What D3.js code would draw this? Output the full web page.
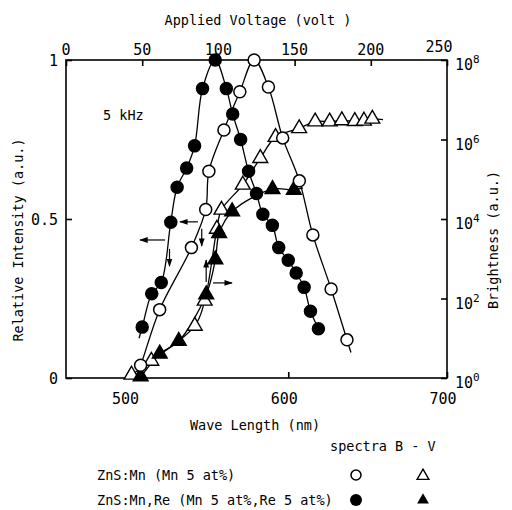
<!DOCTYPE html>
<html>
<head>
<meta charset="utf-8">
<script src="https://cdn.jsdelivr.net/npm/d3@7"></script>
<style>
  body { margin: 0; background: #fff; }
  text { font-family: "DejaVu Sans Mono", monospace; fill: #000; }
</style>
</head>
<body>
<div id="chart"></div>
<script>
// spectra: [wavelength nm, relative intensity]
const specMn = [[507,0.04],[519,0.215],[539,0.41],[548,0.53],[550,0.65],[559.5,0.78],[569.5,0.90],[578.5,1.0],
  [587.5,0.915],[596.5,0.755],[607,0.62],[615.5,0.45],[627,0.28],[637,0.12]];
const specMnRe = [[508,0.16],[514,0.265],[520,0.30],[526,0.49],[530,0.60],[536,0.66],[541,0.73],[546,0.91],[554,1.0],
  [561,0.91],[565,0.83],[570,0.75],[575,0.65],[580,0.58],[584,0.515],[590,0.48],[594,0.41],[600,0.37],
  [605,0.33],[610,0.285],[614,0.21],[619,0.155]];
// B-V: [applied voltage V, log10 brightness]
const bvMn = [[43,0.08],[56,0.43],[84.5,1.31],[91,1.94],[99,3.75],[102,4.23],[116,4.86],[127.5,5.53],[137.5,6.06],
  [153,6.28],[163.5,6.45],[173,6.45],[181,6.48],[189.5,6.46],[195.5,6.47],[201,6.52]];
const bvMnRe = [[49,0.04],[61.5,0.61],[74,0.93],[92,2.1],[98,2.98],[100.5,3.64],[109,4.19],[135.5,4.75],[149.5,4.73]];
// fitted-curve ends beyond the markers
const specMnEnds = [[503.5,0], [639.5,0.08]];
const specMnReEnds = [[506,0.125], [620.5,0.135]];
const bvMnEnds = [[40.5,0], [208,6.5]];
const bvMnReEnds = [[47.5,0], [155.5,4.78]];
// arrows in wavelength / intensity units: [from, to]
const arrows = [
  [[543.1,0.491], [531.8,0.491]],
  [[522.4,0.434], [506.7,0.434]],
  [[525.2,0.406], [525.2,0.352]],
  [[545.5,0.469], [545.5,0.415]],
  [[548.3,0.302], [548.3,0.371]],
  [[552.6,0.299], [564.6,0.299]]
];

const wlTicks = [500, 600, 700];
const voltTicks = [0, 50, 100, 150, 200, 250];
const intTicks = [0, 0.5, 1];
const logTicks = [0, 2, 4, 6, 8];

const W = 512, H = 510;
const m = { left: 66, top: 60, right: 447, bottom: 378 };

const svg = d3.select('#chart').append('svg').attr('width', W).attr('height', H);

const x = d3.scaleLinear().domain([460, 700]).range([m.left, m.right]);
const xv = d3.scaleLinear().domain([0, 250]).range([m.left, m.right]);
const y = d3.scaleLinear().domain([0, 1]).range([m.bottom, m.top]);
const yb = d3.scaleLog().domain([1, 1e8]).range([m.bottom, m.top]);

// frame
svg.append('rect')
  .attr('x', m.left).attr('y', m.top)
  .attr('width', m.right - m.left).attr('height', m.bottom - m.top)
  .attr('fill', 'none').attr('stroke', '#000').attr('stroke-width', 1.6);

// axes, ticks inward
const bottomAxis = svg.append('g').attr('transform', `translate(0,${m.bottom})`)
  .call(d3.axisBottom(x).tickValues(wlTicks).tickSize(-6).tickFormat(''));
const topAxis = svg.append('g').attr('transform', `translate(0,${m.top})`)
  .call(d3.axisTop(xv).tickValues(voltTicks).tickSize(-6).tickFormat(''));
const leftAxis = svg.append('g').attr('transform', `translate(${m.left},0)`)
  .call(d3.axisLeft(y).tickValues(intTicks).tickSize(-6).tickFormat(''));
const rightAxis = svg.append('g').attr('transform', `translate(${m.right},0)`)
  .call(d3.axisRight(yb).tickValues(logTicks.map(d => Math.pow(10, d))).tickSize(-6).tickFormat(''));
[bottomAxis, topAxis, leftAxis, rightAxis].forEach(a => {
  a.select('.domain').remove();
  a.selectAll('line').attr('stroke', '#000').attr('stroke-width', 1.6);
});

// tick labels
svg.append('g').selectAll('text').data(wlTicks).join('text')
  .attr('x', d => x(d) - 4).attr('y', 404)
  .attr('text-anchor', 'middle').attr('font-size', 15).text(d => d);
svg.append('g').selectAll('text').data(voltTicks).join('text')
  .attr('x', d => xv(d) + (d === 250 ? -8 : 0)).attr('y', d => d === 250 ? 52 : 55)
  .attr('text-anchor', 'middle').attr('font-size', 15).text(d => d);
svg.append('g').selectAll('text').data(intTicks).join('text')
  .attr('x', 58).attr('y', d => y(d) + 6)
  .attr('text-anchor', 'end').attr('font-size', 15).text(d => d);
const rl = svg.append('g').selectAll('text').data(logTicks).join('text')
  .attr('x', 455).attr('y', d => yb(Math.pow(10, d)) + 10)
  .attr('font-size', 15);
rl.append('tspan').text('10');
rl.append('tspan').attr('dy', -7).attr('font-size', 11).text(d => d);

// axis titles
svg.append('text').attr('x', 258).attr('y', 25).attr('text-anchor', 'middle')
  .attr('font-size', 13.5).text('Applied Voltage (volt )');
svg.append('text').attr('x', 255).attr('y', 430).attr('text-anchor', 'middle')
  .attr('font-size', 13.5).text('Wave Length (nm)');
svg.append('text').attr('transform', 'translate(23,240) rotate(-90)').attr('text-anchor', 'middle')
  .attr('font-size', 13.5).text('Relative Intensity (a.u.)');
svg.append('text').attr('transform', 'translate(498,240) rotate(-90)').attr('text-anchor', 'middle')
  .attr('font-size', 13.5).text('Brightness (a.u.)');
svg.append('text').attr('x', 103).attr('y', 120).attr('font-size', 13.5).text('5 kHz');

// curves
const specLine = d3.line().x(d => x(d[0])).y(d => y(d[1])).curve(d3.curveCatmullRom);
const bvLine = d3.line().x(d => xv(d[0])).y(d => yb(Math.pow(10, d[1]))).curve(d3.curveCatmullRom);
const withEnds = (pts, ends) => [ends[0], ...pts, ends[1]];

const curves = svg.append('g').attr('fill', 'none').attr('stroke', '#000').attr('stroke-width', 1.3);
curves.append('path').attr('d', specLine(withEnds(specMn, specMnEnds)));
curves.append('path').attr('d', specLine(withEnds(specMnRe, specMnReEnds)));
curves.append('path').attr('d', bvLine(withEnds(bvMn, bvMnEnds)));
curves.append('path').attr('d', bvLine(withEnds(bvMnRe, bvMnReEnds)));

// markers
const tri = d3.symbol().type(d3.symbolTriangle).size(95);
const triSmall = d3.symbol().type(d3.symbolTriangle).size(60);
function circles(data, filled) {
  svg.append('g').selectAll('circle').data(data).join('circle')
    .attr('cx', d => x(d[0])).attr('cy', d => y(d[1])).attr('r', 6)
    .attr('fill', filled ? '#000' : '#fff').attr('stroke', '#000').attr('stroke-width', 1.5);
}
function triangles(data, filled) {
  svg.append('g').selectAll('path').data(data).join('path')
    .attr('transform', d => `translate(${xv(d[0])},${yb(Math.pow(10, d[1]))})`)
    .attr('d', tri)
    .attr('fill', filled ? '#000' : '#fff').attr('stroke', '#000').attr('stroke-width', 1.4);
}
triangles(bvMn, false);
triangles(bvMnRe, true);
circles(specMn, false);
circles(specMnRe, true);

// arrows pointing to the axis each curve belongs to
svg.append('defs').append('marker').attr('id', 'ah').attr('viewBox', '0 0 10 10')
  .attr('refX', 9).attr('refY', 5).attr('markerWidth', 7).attr('markerHeight', 7)
  .attr('orient', 'auto-start-reverse')
  .append('path').attr('d', 'M0,1.5L10,5L0,8.5z').attr('fill', '#000');
svg.append('g').selectAll('line').data(arrows).join('line')
  .attr('x1', d => x(d[0][0])).attr('y1', d => y(d[0][1]))
  .attr('x2', d => x(d[1][0])).attr('y2', d => y(d[1][1]))
  .attr('stroke', '#000').attr('stroke-width', 1.2).attr('marker-end', 'url(#ah)');

// legend
const lg = svg.append('g').attr('font-size', 13.5);
lg.append('text').attr('x', 330).attr('y', 451).text('spectra  B - V');
lg.append('text').attr('x', 97).attr('y', 480).text('ZnS:Mn (Mn 5 at%)');
lg.append('text').attr('x', 97).attr('y', 505).text('ZnS:Mn,Re (Mn 5 at%,Re 5 at%)');
lg.append('circle').attr('cx', 356).attr('cy', 475).attr('r', 5)
  .attr('fill', '#fff').attr('stroke', '#000').attr('stroke-width', 1.5);
lg.append('circle').attr('cx', 356).attr('cy', 500).attr('r', 6).attr('fill', '#000');
lg.append('path').attr('transform', 'translate(423,476)').attr('d', triSmall)
  .attr('fill', '#fff').attr('stroke', '#000').attr('stroke-width', 1.4);
lg.append('path').attr('transform', 'translate(423,500)').attr('d', triSmall).attr('fill', '#000');
</script>
</body>
</html>
